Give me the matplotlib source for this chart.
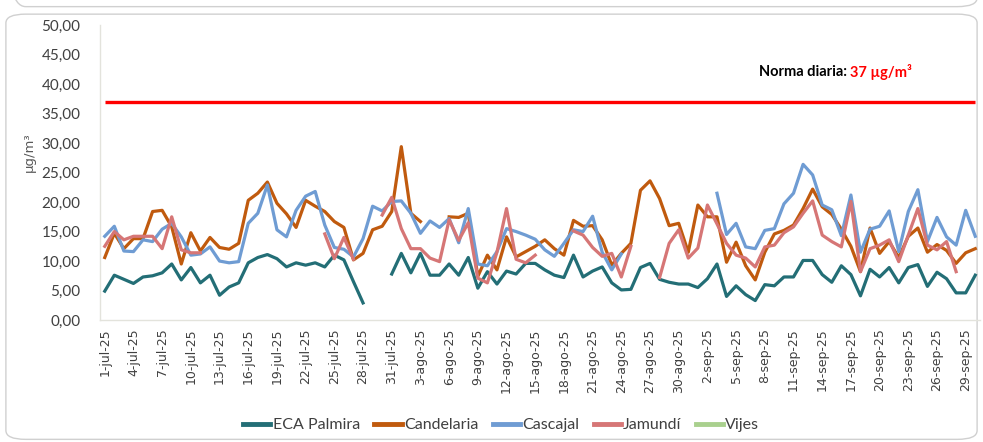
import numpy as np
import pandas as pd
import matplotlib.pyplot as plt
from matplotlib.patches import FancyBboxPatch
from matplotlib.ticker import FuncFormatter

nan = np.nan

# daily PM values, 1-jul-25 .. 30-sep-25
eca_palmira = [4.9, 7.6, 6.9, 6.2, 7.3, 7.5, 8.0, 9.5, 6.8, 8.9, 6.3, 7.6, 4.2, 5.6, 6.3, 9.7,
               10.6, 11.1, 10.4, 9.0, 9.7, 9.3, 9.7, 9.0, 11.0, 10.2, 6.5, 2.9, nan, nan, 7.8, 11.3,
               8.0, 11.3, 7.6, 7.6, 9.5, 7.6, 10.6, 5.4, 8.2, 6.1, 8.3, 7.8, 9.6, 9.6, 8.5, 7.6,
               7.2, 11.0, 7.3, 8.3, 9.0, 6.3, 5.1, 5.2, 8.9, 9.6, 6.9, 6.4, 6.1, 6.1, 5.5, 7.0,
               9.5, 4.0, 5.8, 4.3, 3.3, 6.0, 5.8, 7.3, 7.3, 10.1, 10.1, 7.7, 6.4, 9.2, 7.7, 4.1,
               8.6, 7.3, 8.9, 6.3, 8.9, 9.4, 5.7, 8.1, 7.0, 4.6, 4.6, 7.6]
candelaria = [10.6, 14.7, 12.1, 13.8, 13.8, 18.4, 18.6, 15.8, 9.5, 14.8, 11.7, 14.0, 12.3, 12.0, 13.0, 20.3,
              21.5, 23.4, 19.8, 18.0, 15.7, 20.3, 19.3, 18.4, 16.7, 15.7, 10.2, 11.3, 15.3, 15.9, 18.4, 29.4,
              18.1, 16.7, nan, nan, 17.5, 17.4, 18.1, 7.4, 11.0, 8.5, 14.1, 10.7, 11.6, 12.5, 13.6, 12.1,
              11.0, 16.9, 15.9, 16.0, 13.6, 9.3, 11.3, 13.0, 22.0, 23.6, 20.6, 16.0, 16.4, 11.5, 19.5, 17.5,
              17.5, 9.8, 13.2, 9.2, 6.8, 11.5, 14.6, 15.2, 16.1, 18.9, 22.2, 19.2, 17.9, 15.4, 12.5, 8.2,
              15.6, 11.3, 13.3, 10.6, 14.2, 15.6, 11.5, 12.8, 11.8, 9.6, 11.4, 12.1]
cascajal = [14.2, 15.9, 11.7, 11.6, 13.6, 13.3, 15.4, 16.4, 14.1, 11.0, 11.2, 12.4, 10.0, 9.7, 9.9, 16.4,
            18.1, 22.9, 15.3, 14.1, 18.6, 21.0, 21.8, 16.1, 12.3, 12.0, 10.7, 13.8, 19.3, 18.5, 20.1, 20.2,
            18.1, 14.7, 16.8, 15.7, 17.2, 13.1, 18.9, 9.5, 9.2, 11.6, 15.5, 15.0, 14.4, 13.7, 11.9, 10.8,
            13.0, 15.3, 15.0, 17.6, 11.5, 8.5, 11.2, nan, nan, nan, nan, nan, nan, nan, nan, nan,
            21.5, 14.5, 16.4, 12.4, 12.1, 15.2, 15.5, 19.7, 21.5, 26.4, 24.6, 19.5, 18.7, 14.3, 21.2, 11.5,
            15.4, 15.9, 18.5, 11.6, 18.4, 22.1, 13.3, 17.4, 14.1, 12.7, 18.6, 14.2]
jamundi = [12.5, 15.0, 13.6, 14.2, 14.2, 14.2, 12.1, 17.5, 11.9, 11.4, 11.4, nan, nan, nan, nan, nan,
           nan, nan, nan, nan, nan, nan, nan, 14.6, 10.4, 14.0, 10.3, nan, nan, 17.8, 20.8, 15.5,
           12.1, 12.1, 10.5, 9.9, 17.0, 13.5, 16.5, 7.1, 6.3, 11.5, 18.9, 10.3, 9.7, 11.0, nan, nan,
           nan, 15.1, 14.4, 12.3, 10.8, 11.3, 7.3, 12.5, nan, nan, 7.2, 13.0, 15.3, 10.5, 12.2, 19.5,
           16.3, 13.0, 11.0, 10.5, 9.0, 12.4, 12.7, 14.8, 15.8, 18.1, 20.2, 14.4, 13.3, 12.4, 20.1, 8.2,
           12.1, 12.7, 13.6, 9.9, 14.4, 18.9, 12.7, 11.9, 13.3, 8.2, nan, nan]
vijes = [nan] * 92
norma = 37

names = ['ECA Palmira', 'Candelaria', 'Cascajal', 'Jamundí', 'Vijes']
colors = ['#236E76', '#C05A0E', '#6F9CD3', '#D67676', '#A9D08E']
series = [eca_palmira, candelaria, cascajal, jamundi, vijes]

meses = {7: 'jul', 8: 'ago', 9: 'sep'}
dates = pd.date_range('2025-07-01', '2025-09-30')
labels = [f'{d.day}-{meses[d.month]}-25' for d in dates]

plt.rcParams['font.family'] = ['DejaVu Sans']
narrow = ['Lato', 'DejaVu Sans']

fig = plt.figure(figsize=(9.83, 4.42), dpi=100)

# card frames
fig.patches.append(FancyBboxPatch((0.006, 0.006), 0.988, 0.962, boxstyle='round,pad=0,rounding_size=0.02',
                                  transform=fig.transFigure, facecolor='none', edgecolor='#D0D0D0', lw=1.0,
                                  zorder=-1))
fig.patches.append(FancyBboxPatch((0.006, 0.985), 0.988, 0.2, boxstyle='round,pad=0,rounding_size=0.02',
                                  transform=fig.transFigure, facecolor='none', edgecolor='#D0D0D0', lw=1.0,
                                  zorder=-1))

ax = fig.add_axes([0.1017, 0.276, 0.8953, 0.667])
ax.patch.set_alpha(0)
x = np.arange(len(dates))

ax.plot(x, [norma] * len(x), color='#FF0000', lw=2.4, solid_capstyle='butt')
for name, vals, c in zip(names, series, colors):
    ax.plot(x, vals, color=c, lw=2.3, label=name, solid_joinstyle='round')

ax.set_xlim(-0.5, len(x) - 0.5)
ax.set_ylim(0, 50)
ax.set_yticks(np.arange(0, 51, 5))
ax.yaxis.set_major_formatter(FuncFormatter(lambda v, p: f'{v:.2f}'.replace('.', ',')))
ax.set_xticks(x[::3])
ax.set_xticklabels(labels[::3], rotation=90, fontsize=9, color='#404040')
ax.tick_params(axis='y', length=0, labelsize=11, labelcolor='#404040', pad=14)
ax.tick_params(axis='x', length=0, pad=6)
for lab in ax.get_yticklabels():
    lab.set_family(narrow)

for s in ['top', 'right']:
    ax.spines[s].set_visible(False)
for s in ['left', 'bottom']:
    ax.spines[s].set_color('#E3E3DC')
    ax.spines[s].set_linewidth(1.0)

fig.text(0.03, 0.655, 'µg/m³', rotation=90, ha='center', va='center', fontsize=9.5, color='#595959')

t1 = fig.text(0.772, 0.836, 'Norma diaria: ', fontsize=10.5, fontweight='bold', color='black',
              family=narrow, va='center')
ax.annotate('37 µg/m³', xy=(1, 0.5), xycoords=t1, va='center', ha='left',
            fontsize=10.5, fontweight='bold', color='#FF0000', family=narrow)

leg = fig.legend(loc='center', bbox_to_anchor=(0.51, 0.038), ncol=5, frameon=False,
                 handlelength=1.7, handletextpad=0.15, columnspacing=0.9,
                 prop={'family': narrow, 'size': 11.5})
for t in leg.get_texts():
    t.set_color('#404040')
for h in leg.get_lines():
    h.set_linewidth(3.5)

fig.savefig('out.png', dpi=100)
